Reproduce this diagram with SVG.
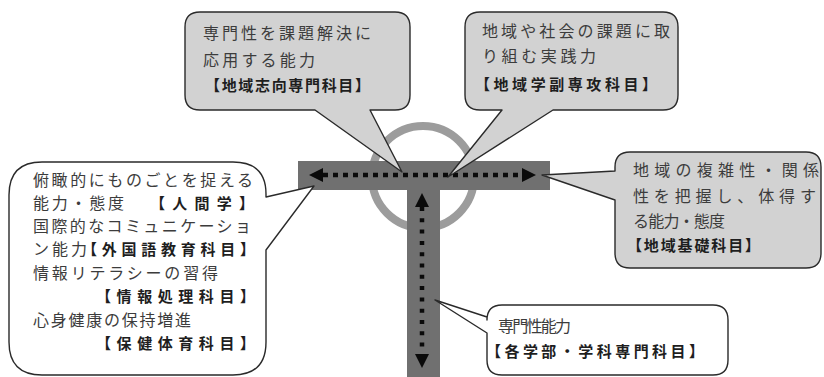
<svg xmlns="http://www.w3.org/2000/svg" width="824" height="377" viewBox="0 0 824 377">
<style>
  .bg{fill:#ffffff}
  .ring{fill:none;stroke:#9c9c9c;stroke-width:8}
  .bar{fill:#707070}
  .dots{fill:none;stroke:#0a0a0a;stroke-width:4.5}
  .co{stroke:#2a2a2a;stroke-width:1.4;stroke-linejoin:round}
  .gray{fill:#d2d2d2}
  .white{fill:#ffffff}
  .t{font-family:"Noto Sans CJK JP","Noto Sans",sans-serif;font-size:16px;fill:#3c3c3c;font-weight:400}
  .b{font-family:"Noto Sans CJK JP","Noto Sans",sans-serif;font-size:15px;fill:#1e1e1e;font-weight:700}
</style>
<defs>
  <marker id="ah" viewBox="0 0 14 14" refX="0" refY="7" markerWidth="14" markerHeight="14" markerUnits="userSpaceOnUse" orient="auto-start-reverse">
    <path d="M0,0 L14,7 L0,14 Z" fill="#0a0a0a"/>
  </marker>
</defs>
<rect class="bg" x="0" y="0" width="824" height="377"/>

<g id="center">
  <circle class="ring" cx="423" cy="177" r="51"/>
  <rect class="bar" x="298" y="161" width="252" height="29"/>
  <rect class="bar" x="407" y="190" width="33" height="187"/>
</g>

<g id="connectors">
  <line class="dots" x1="323" y1="175" x2="522" y2="175" stroke-dasharray="5 5" marker-start="url(#ah)" marker-end="url(#ah)"/>
  <line class="dots" x1="422" y1="207" x2="422" y2="354" stroke-dasharray="4 7.3" marker-start="url(#ah)" marker-end="url(#ah)"/>
</g>

<g id="callout-top-left">
  <path class="co gray" d="M200,12 H395 Q410,12 410,27 V95 Q410,110 395,110 H370 L402,172 L315,110 H200 Q185,110 185,95 V27 Q185,12 200,12 Z"/>
  <text class="t" x="203" y="39" textLength="168" lengthAdjust="spacing">専門性を課題解決に</text>
  <text class="t" x="203" y="66" textLength="112" lengthAdjust="spacing">応用する能力</text>
  <text class="b" x="205" y="91" textLength="165" lengthAdjust="spacing">【地域志向専門科目】</text>
</g>

<g id="callout-top-right">
  <path class="co gray" d="M480,12 H663 Q678,12 678,27 V95 Q678,110 663,110 H553 L448,177 L502,110 H480 Q465,110 465,95 V27 Q465,12 480,12 Z"/>
  <text class="t" x="482" y="37" textLength="188" lengthAdjust="spacing">地域や社会の課題に取</text>
  <text class="t" x="482" y="62" textLength="114" lengthAdjust="spacing">り組む実践力</text>
  <text class="b" x="475" y="90" textLength="182" lengthAdjust="spacing">【地域学副専攻科目】</text>
</g>

<g id="callout-right">
  <path class="co gray" d="M630,152 H806 Q821,152 821,167 V253 Q821,268 806,268 H630 Q615,268 615,253 V200 L542,175 L615,171 V167 Q615,152 630,152 Z"/>
  <text class="t" x="633" y="176" textLength="186" lengthAdjust="spacing">地域の複雑性・関係</text>
  <text class="t" x="633" y="202" textLength="183" lengthAdjust="spacing">性を把握し、体得す</text>
  <text class="t" x="633" y="227" font-size="15" textLength="92" lengthAdjust="spacing">る能力・態度</text>
  <text class="b" x="627" y="251" font-size="14" textLength="133" lengthAdjust="spacing">【地域基礎科目】</text>
</g>

<g id="callout-left">
  <path class="co white" d="M42,162 H233 Q266,162 266,194 V197 L314,186 L266,250 V342 Q266,375 233,375 H42 Q9,375 9,342 V195 Q9,162 42,162 Z"/>
  <text class="t" x="33" y="186" textLength="220" lengthAdjust="spacing">俯瞰的にものごとを捉える</text>
  <text class="t" x="33" y="209" textLength="91" lengthAdjust="spacing">能力・態度</text>
  <text class="b" x="150" y="209" font-size="17" textLength="104" lengthAdjust="spacing">【人間学】</text>
  <text class="t" x="33" y="232" textLength="218" lengthAdjust="spacing">国際的なコミュニケーショ</text>
  <text class="t" x="33" y="255" textLength="54" lengthAdjust="spacing">ン能力</text>
  <text class="b" x="82" y="255" font-size="17" textLength="173" lengthAdjust="spacing">【外国語教育科目】</text>
  <text class="t" x="33" y="279" textLength="185" lengthAdjust="spacing">情報リテラシーの習得</text>
  <text class="b" x="96" y="302" font-size="17" textLength="159" lengthAdjust="spacing">【情報処理科目】</text>
  <text class="t" x="33" y="326" textLength="158" lengthAdjust="spacing">心身健康の保持増進</text>
  <text class="b" x="96" y="349" font-size="17" textLength="159" lengthAdjust="spacing">【保健体育科目】</text>
</g>

<g id="callout-bottom">
  <path class="co white" d="M502,305 H713 Q728,305 728,320 V360 Q728,375 713,375 H502 Q487,375 487,360 V333 L435,300 L487,317 V320 Q487,305 502,305 Z"/>
  <text class="t" x="498" y="332" font-size="14.5" textLength="73" lengthAdjust="spacing">専門性能力</text>
  <text class="b" x="486" y="357" textLength="218" lengthAdjust="spacing">【各学部・学科専門科目】</text>
</g>
</svg>
